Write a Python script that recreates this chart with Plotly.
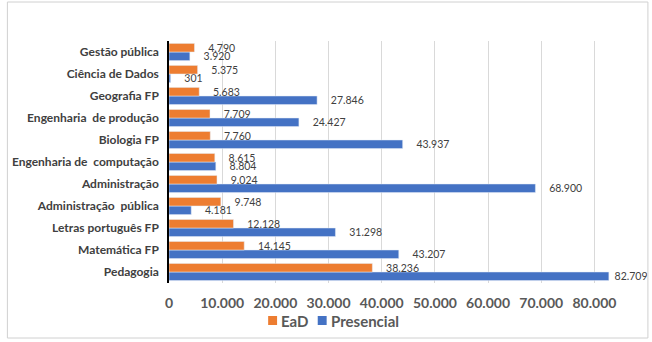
import plotly.graph_objects as go

categories = ["Gestão pública", "Ciência de Dados", "Geografia FP", "Engenharia  de produção",
              "Biologia FP", "Engenharia de  computação", "Administração", "Administração  pública",
              "Letras português FP", "Matemática FP", "Pedagogia"]
ead = [4790, 5375, 5683, 7709, 7760, 8615, 9024, 9748, 12128, 14145, 38236]
presencial = [3920, 301, 27846, 24427, 43937, 8804, 68900, 4181, 31298, 43207, 82709]
x_ticks = [0, 10000, 20000, 30000, 40000, 50000, 60000, 70000, 80000]
series_names = ["EaD", "Presencial"]
series_colors = ["#ED7D31", "#4472C4"]

cats_bottom_up = categories[::-1]
ead_bu = ead[::-1]
pres_bu = presencial[::-1]


def fmt(v):
    s = f"{v:,}".replace(",", ".")
    pad = "\u00a0" * (4 if v < 80000 else 1)
    return pad + s


label_font = dict(family="Lato, Open Sans, sans-serif", size=10.5, color="#404040")

fig = go.Figure()
fig.add_trace(go.Bar(y=cats_bottom_up, x=pres_bu, orientation="h", name=series_names[1],
                     marker_color=series_colors[1], text=[fmt(v) for v in pres_bu], textposition="outside",
                     textfont=label_font, cliponaxis=False, constraintext="none", showlegend=False))
fig.add_trace(go.Bar(y=cats_bottom_up, x=ead_bu, orientation="h", name=series_names[0],
                     marker_color=series_colors[0], text=[fmt(v) for v in ead_bu], textposition="outside",
                     textfont=label_font, cliponaxis=False, constraintext="none", showlegend=False))

L, R, T, B = 165, 15, 41, 59
W, H = 652, 342
pw, ph = W - L - R, H - T - B


def px2x(px):
    return (px - L) / pw


def py2y(py):
    return (H - B - py) / ph


fig.update_layout(
    width=W, height=H,
    margin=dict(l=L, r=R, t=T, b=B),
    paper_bgcolor="white", plot_bgcolor="white",
    separators=",.",
    barmode="group", bargap=0.22, bargroupgap=0,
    font=dict(family="Lato, Open Sans, sans-serif", color="#404040"),
    showlegend=False,
)
fig.update_xaxes(range=[0, 88000], tickvals=x_ticks, tickformat=",",
                 showgrid=True, gridcolor="#D9D9D9", gridwidth=1,
                 zeroline=False, showline=False, ticks="", ticklabelstandoff=10,
                 tickfont=dict(size=14, color="#595959", weight="bold"))
fig.update_yaxes(type="category", categoryorder="array", categoryarray=cats_bottom_up,
                 showline=True, linecolor="#000000", linewidth=1.5, ticks="",
                 ticklabelstandoff=6,
                 tickfont=dict(size=12, color="#404040", weight="bold"))

# legend (manual, compact like the reference)
legend_sq_left = [265, 315]
for name, col, sx in zip(series_names, series_colors, legend_sq_left):
    fig.add_shape(type="rect", xref="paper", yref="paper",
                  x0=px2x(sx), x1=px2x(sx + 9), y0=py2y(325), y1=py2y(316),
                  line=dict(width=0), fillcolor=col)
    fig.add_annotation(xref="paper", yref="paper", x=px2x(sx + 11), y=py2y(320.5),
                       xanchor="left", yanchor="middle", showarrow=False, text=name,
                       font=dict(size=15, color="#595959", weight="bold"))

fig.add_shape(type="rect", xref="paper", yref="paper", x0=px2x(2), x1=px2x(648),
              y0=py2y(338), y1=py2y(2),
              line=dict(color="#D0D0D0", width=1), fillcolor="rgba(0,0,0,0)")
fig.write_html("out.html")
